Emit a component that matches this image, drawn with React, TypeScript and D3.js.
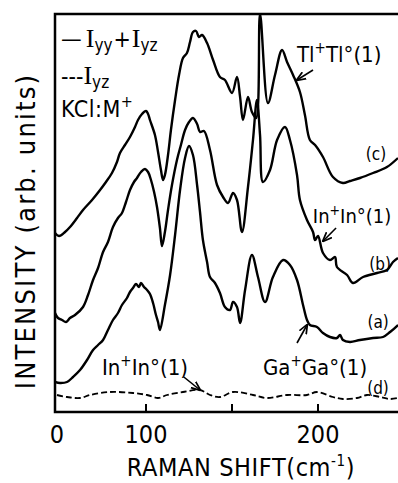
import React from "react";
import * as d3 from "d3";

const W = 398;
const H = 483;

// Raman shift (cm-1), intensity (arb.)
const curveC: [number, number][] = [
  [0, 179], [4.4, 176], [11, 180], [16.5, 185], [24.2, 194], [30.8, 202], [40.7, 212], [49.5, 222],
  [56, 230], [62.6, 239], [68.1, 250], [71.4, 259], [76.9, 267], [82.4, 275], [87.9, 285], [91.2, 292],
  [95.6, 298], [100, 301], [101.2, 298], [102.3, 292], [105.2, 277], [107, 260], [108.7, 242], [109.9, 232],
  [111, 237], [112.8, 257], [114.5, 282], [116.9, 312], [119.2, 337], [121.5, 354], [123.8, 359], [125.6, 370],
  [127.3, 380], [129.1, 381], [130.8, 375], [132.6, 377], [135.5, 369], [139, 352], [143, 335], [145.9, 332],
  [150, 319], [152.9, 335], [154.7, 315], [156.4, 292], [159.3, 315], [161.6, 300], [164, 294], [166.3, 398],
  [170.9, 309], [175, 337], [179.1, 362], [182, 350], [185.5, 337], [189.5, 320], [192.4, 297], [195.3, 272],
  [198.3, 267], [202.9, 255], [208.7, 235], [214.5, 229], [218.6, 231], [224.4, 234], [232, 239], [240.1, 245],
  [246.5, 254],
];

const curveB: [number, number][] = [
  [0, 99], [3.3, 94], [7.7, 92], [12.1, 90], [16.5, 94], [22, 97], [30.8, 105], [36.3, 117], [41.8, 132],
  [47.3, 144], [52.8, 160], [58.2, 170], [63.7, 185], [69.2, 194], [73.6, 199], [78, 210], [82.4, 222],
  [86.8, 230], [90.1, 234], [94.5, 240], [98.9, 243], [101.2, 240], [102.9, 232], [104.7, 220], [106.4, 205],
  [108.1, 184], [109.3, 166], [111, 180], [112.8, 202], [115.1, 227], [118, 252], [120.3, 267], [122.7, 282],
  [125, 290], [127.3, 294], [129.7, 288], [131.4, 280], [133.7, 281], [137.2, 262], [141.3, 227], [144.8, 215],
  [147.7, 209], [150.6, 219], [152.9, 212], [155.8, 180], [159.3, 225], [162.2, 272], [164.5, 312], [166.3, 277],
  [168, 230], [172.1, 242], [176.2, 272], [180.8, 285], [183.7, 272], [187.8, 237], [189.5, 212], [193.6, 192],
  [197.1, 180], [198.3, 172], [200, 176], [202.9, 159], [207, 152], [209.9, 155], [211, 145], [216.9, 137],
  [220.3, 129], [226.2, 135], [234.3, 139], [240.1, 142], [243.6, 150], [246.5, 154],
];

const curveA: [number, number][] = [
  [0, 30], [5.5, 29], [13.2, 30], [19.8, 35], [27.5, 42], [35.2, 52], [41.8, 62], [47.3, 67], [52.8, 72],
  [58.2, 82], [63.7, 92], [69.2, 99], [73.6, 107], [79.1, 114], [82.4, 120], [85.7, 124], [89, 128],
  [92.3, 125], [94.5, 129], [97.8, 125], [100.6, 122], [102.3, 118], [104.1, 109], [105.8, 97], [107, 90],
  [108.1, 82], [111, 107], [114, 137], [116.9, 177], [119.8, 222], [122.7, 254], [125, 266], [127.3, 257],
  [129.7, 227], [131.4, 200], [133.1, 172], [135.5, 150], [137.2, 135], [140.1, 129], [143, 119], [145.9, 105],
  [148.8, 102], [150.6, 110], [152.9, 105], [154.7, 89], [157.6, 122], [161.6, 157], [165.1, 135], [169.2, 110],
  [173.8, 135], [179.7, 152], [183.7, 147], [187.8, 132], [191.3, 107], [193.6, 92], [195.3, 87], [199.4, 85],
  [202.9, 79], [207, 75], [211, 74], [212.8, 77], [214.5, 72], [218.6, 70], [224.4, 72], [232, 74],
  [237.8, 75], [241.9, 80], [246.5, 87],
];

const curveD: [number, number][] = [
  [2.2, 17], [13.2, 15], [27.5, 14], [38.5, 17], [60.4, 20], [85.7, 19], [100.6, 17], [107, 14], [112.2, 17],
  [121.5, 20], [131.4, 22], [137.2, 17], [143, 15], [150.6, 20], [162.2, 17], [170.3, 14], [182, 17],
  [193.6, 17], [199.4, 20], [208.7, 15], [214.5, 13], [222.7, 14], [228.5, 17], [236.1, 15], [241.9, 13],
  [246.5, 14],
];

const tickMarks = [100, 150, 200];
const tickLabels = [0, 100, 200];

const font = "'DejaVu Sans Condensed', 'Liberation Sans Narrow', 'DejaVu Sans', sans-serif";
const serif = "'Liberation Serif', serif";

export default function App() {
  const x = d3.scaleLinear().domain([0, 100, 200, 250]).range([55, 146, 318, 404]);
  const y = d3.scaleLinear().domain([0, 398]).range([412, 14]);
  const [x0, x1] = [x(0), W];
  const [yb, yt] = [y(0), y(398)];

  const line = d3
    .line<[number, number]>()
    .x((d) => x(d[0]))
    .y((d) => y(d[1]))
    .curve(d3.curveCatmullRom.alpha(0.5));

  const arrow = (from: [number, number], to: [number, number]) => (
    <line x1={x(from[0])} y1={y(from[1])} x2={x(to[0])} y2={y(to[1])} stroke="#000" strokeWidth={1.6} markerEnd="url(#head)" />
  );

  return (
    <svg width={W} height={H} style={{ position: "absolute", left: 0, top: 0, background: "#fff" }} fontFamily={font}>
      <defs>
        <clipPath id="plot">
          <rect x={x0} y={yt} width={x1 - x0} height={yb - yt} />
        </clipPath>
        <marker id="head" viewBox="0 0 10 10" refX="9" refY="5" markerWidth="6" markerHeight="6" orient="auto">
          <path d="M0,1 L10,5 L0,9" fill="none" stroke="#000" strokeWidth={1.8} />
        </marker>
      </defs>

      {/* frame */}
      <path d={`M${x1},${yt} H${x0} V${yb} H${x1}`} fill="none" stroke="#000" strokeWidth={2.5} />
      {tickMarks.map((t) => (
        <line key={t} x1={x(t)} x2={x(t)} y1={yb} y2={yb - 8} stroke="#000" strokeWidth={2} />
      ))}
      {tickLabels.map((t) => (
        <text key={t} x={x(t) + (t === 0 ? 2 : 0)} y={yb + 31} textAnchor="middle" fontSize={25}>
          {t}
        </text>
      ))}

      <g clipPath="url(#plot)" fill="none" stroke="#000" strokeWidth={2.4} strokeLinejoin="round">
        <path d={line(curveC) ?? ""} />
        <path d={line(curveB) ?? ""} />
        <path d={line(curveA) ?? ""} />
        <path d={line(curveD) ?? ""} strokeWidth={1.8} strokeDasharray="6 3" />
      </g>

      {/* legend */}
      <g fontSize={23}>
        <text x={61} y={47}>
          —<tspan fontFamily={serif} fontSize={26} dx={4}>I</tspan>
          <tspan fontSize={17} dy={4}>yy</tspan>
          <tspan dy={-4} dx={1}>+</tspan>
          <tspan fontFamily={serif} fontSize={26} dx={1}>I</tspan>
          <tspan fontSize={17} dy={4}>yz</tspan>
        </text>
        <text x={61} y={84}>
          ---<tspan fontFamily={serif} fontSize={26}>I</tspan>
          <tspan fontSize={17} dy={4}>yz</tspan>
        </text>
        <text x={61} y={117} letterSpacing={0.5}>
          KCl:M<tspan fontSize={16} dy={-10}>+</tspan>
        </text>
      </g>

      {/* annotations */}
      <g fontSize={22}>
        <text x={x(187.8)} y={y(350)}>
          Tl<tspan fontSize={15} dy={-9}>+</tspan>
          <tspan dy={9}>Tl°(1)</tspan>
        </text>
        {arrow([197.1, 342], [187.8, 332])}
        <text x={x(197)} y={y(189)} fontSize={20}>
          In<tspan fontSize={14} dy={-8}>+</tspan>
          <tspan dy={8}>In°(1)</tspan>
        </text>
        {arrow([210.5, 184], [203, 171])}
        <text x={x(168)} y={y(37)}>
          Ga<tspan fontSize={15} dy={-9}>+</tspan>
          <tspan dy={9}>Ga°(1)</tspan>
        </text>
        {arrow([187.8, 69], [193.6, 87])}
        <text x={x(51.6)} y={y(37)}>
          In<tspan fontSize={15} dy={-9}>+</tspan>
          <tspan dy={9}>In°(1)</tspan>
        </text>
        {arrow([122, 35], [131.4, 22])}
      </g>
      <g fontSize={17} textAnchor="middle">
        <text x={x(233.7)} y={y(252)}>(c)</text>
        <text x={x(236.1)} y={y(142)}>(b)</text>
        <text x={x(235)} y={y(84)}>(a)</text>
        <text x={x(234.9)} y={y(18)}>(d)</text>
      </g>

      {/* axis titles */}
      <text x={241} y={476} textAnchor="middle" fontSize={25} letterSpacing={0.6}>
        RAMAN SHIFT(cm<tspan fontSize={15} dy={-10}>-1</tspan>
        <tspan dy={10}>)</tspan>
      </text>
      <text transform="translate(35,231) rotate(-90)" textAnchor="middle" fontSize={27} letterSpacing={2.2}>
        INTENSITY (arb. units)
      </text>
    </svg>
  );
}
